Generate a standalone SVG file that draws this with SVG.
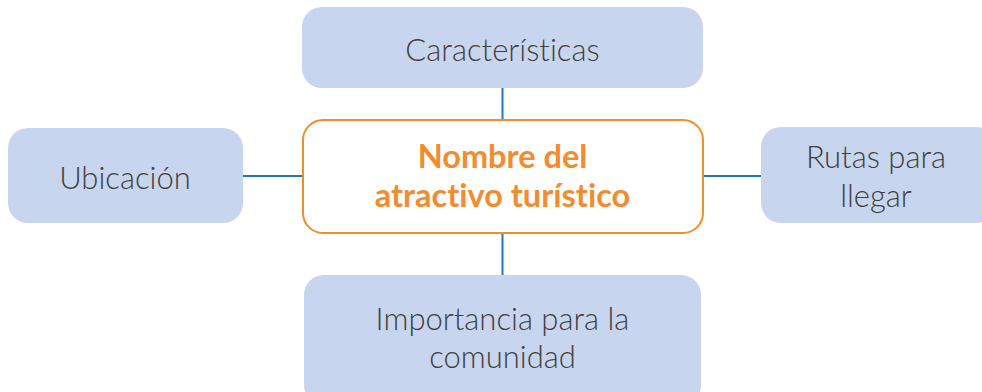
<svg xmlns="http://www.w3.org/2000/svg" width="982" height="392" viewBox="0 0 982 392">
<style>
.box{fill:#C7D5EE}
.main{fill:#FFFFFF;stroke:#F28C2E;stroke-width:2}
text{font-variant-ligatures:none;font-feature-settings:"liga" 0,"clig" 0,"dlig" 0}
.t{font-family:Lato,"Open Sans",sans-serif;font-size:31px;font-weight:300;fill:#404040;text-anchor:middle}
.m{font-family:Lato,"Open Sans",sans-serif;font-size:32.5px;font-weight:bold;fill:#F28C2E;text-anchor:middle}
.c{stroke:#2277BB;stroke-width:2;fill:none}
</style>
<rect width="982" height="392" fill="#FFFFFF"/>
<g id="connectors">
<line class="c" x1="502.5" y1="88" x2="502.5" y2="120"/>
<line class="c" x1="502.5" y1="233" x2="502.5" y2="276"/>
<line class="c" x1="243" y1="176" x2="302" y2="176"/>
<line class="c" x1="703" y1="176" x2="762" y2="176"/>
</g>
<g id="caracteristicas">
<rect class="box" x="302" y="7" width="401" height="81" rx="20"/>
<text class="t" x="502.5" y="61">Características</text>
</g>
<g id="nombre">
<rect class="main" x="303" y="120" width="400" height="113" rx="20"/>
<text class="m" x="502.5" y="168">Nombre del</text>
<text class="m" x="502.5" y="207">atractivo turístico</text>
</g>
<g id="ubicacion">
<rect class="box" x="8" y="128" width="235" height="95" rx="20"/>
<text class="t" x="125" y="189">Ubicación</text>
</g>
<g id="rutas">
<rect class="box" x="761" y="127" width="235" height="96" rx="20"/>
<text class="t" x="876" y="168">Rutas para</text>
<text class="t" x="876" y="207">llegar</text>
</g>
<g id="importancia">
<rect class="box" x="304" y="275" width="397" height="130" rx="20"/>
<text class="t" x="502.5" y="330">Importancia para la</text>
<text class="t" x="502.5" y="368">comunidad</text>
</g>
</svg>
